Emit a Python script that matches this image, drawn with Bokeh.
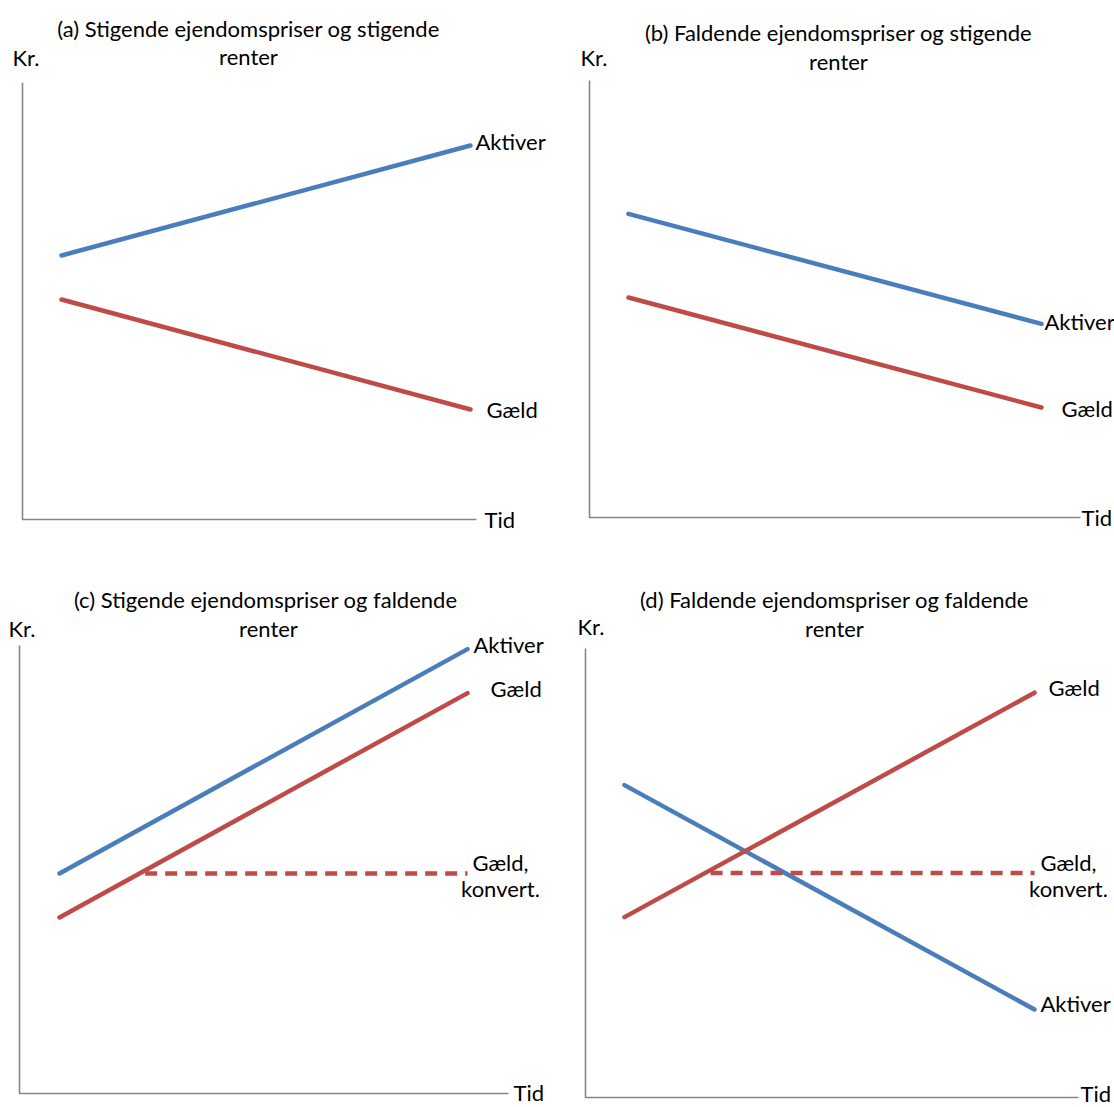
from bokeh.plotting import figure
from bokeh.layouts import gridplot
from bokeh.models import Range1d
from bokeh.embed import file_html
from bokeh.resources import INLINE
from bokeh.core.properties import value

# ---------------- data (schematic values, "Kr." vs "Tid") ----------------
time_points = [1, 11]

a_aktiver = [60, 85]
a_gaeld = [50, 25]

b_aktiver = [69, 44]
b_gaeld = [50, 25]

c_aktiver = [50, 101]
c_gaeld = [40, 91]
c_konv_time = [3.1, 11]
c_gaeld_konv = [50, 50]

d_aktiver = [71, 20]
d_gaeld = [41, 92]
d_konv_time = [3.1, 11]
d_gaeld_konv = [51, 51]

titles = [
    ["(a) Stigende ejendomspriser og stigende", "renter"],
    ["(b) Faldende ejendomspriser og stigende", "renter"],
    ["(c)  Stigende ejendomspriser og faldende", "renter"],
    ["(d) Faldende ejendomspriser og faldende", "renter"],
]
y_label = "Kr."
x_label = "Tid"
lbl_aktiver = "Aktiver"
lbl_gaeld = "Gæld"
lbl_konv = ["Gæld,", "konvert."]

# ---------------- style ----------------
BLUE = "#4A7EBB"
RED = "#BE4B48"
AXIS = "#868686"
FONT = "Lato"
FS = "22px"
PX_PER_KR = 4.4
LW = 4.5


def make_panel(L):
    W, H, ox, oy = L["W"], L["H"], L["ox"], L["oy"]
    s_px, e_px = L["start"], L["end"]
    ppt = (e_px - s_px) / (time_points[1] - time_points[0])

    def t_at(px):  # reference picture x -> time units
        return time_points[0] + (px - s_px) / ppt

    def v_at(py):  # reference picture y -> kr units
        return (L["axis_y"] - py) / PX_PER_KR

    p = figure(width=W, height=H, output_backend="svg", toolbar_location=None,
               x_axis_type=None, y_axis_type=None, min_border=0,
               x_range=Range1d(t_at(ox), t_at(ox + W)),
               y_range=Range1d(v_at(oy + H), v_at(oy)))
    p.outline_line_color = None
    p.background_fill_color = "white"
    p.border_fill_color = "white"

    # axes (L-shape)
    ax_t = t_at(L["axis_x"])
    p.line([ax_t, ax_t, t_at(L["x_end"])], [v_at(L["top"]), 0, 0],
           line_color=AXIS, line_width=1.6)

    tf = dict(text_font=value(FONT), text_font_size=FS, text_color="black",
              text_baseline="middle")
    cx_t = t_at(L["title_x"])
    p.text([cx_t], [v_at(L["title_y"][0])], text=[L["title"][0]], text_align="center", **tf)
    p.text([cx_t], [v_at(L["title_y"][1])], text=[L["title"][1]], text_align="center", **tf)
    p.text([t_at(L["kr"][0])], [v_at(L["kr"][1])], text=[y_label], text_align="left", **tf)
    p.text([t_at(L["tid"][0])], [v_at(L["tid"][1])], text=[x_label], text_align="left", **tf)
    return p, tf


layouts = {
    "a": dict(W=557, H=554, ox=0, oy=0, axis_x=22, axis_y=519, top=82, x_end=476,
              start=61, end=470, title=titles[0], title_x=248, title_y=(28, 56),
              kr=(12, 57), tid=(484, 519)),
    "b": dict(W=557, H=554, ox=557, oy=0, axis_x=589, axis_y=517, top=80, x_end=1080,
              start=628, end=1041, title=titles[1], title_x=838, title_y=(32, 61),
              kr=(580, 57), tid=(1081, 517)),
    "c": dict(W=557, H=553, ox=0, oy=554, axis_x=19, axis_y=1093, top=645, x_end=508,
              start=59, end=467, title=titles[2], title_x=268, title_y=(599, 628),
              kr=(8, 628), tid=(513, 1092)),
    "d": dict(W=557, H=553, ox=557, oy=554, axis_x=585, axis_y=1097, top=648, x_end=1078,
              start=624, end=1034, title=titles[3], title_x=834, title_y=(599, 628),
              kr=(577, 626), tid=(1080, 1093)),
}

# panel a
pa, tf = make_panel(layouts["a"])
pa.line(time_points, a_aktiver, line_color=BLUE, line_width=LW, line_cap="round")
pa.line(time_points, a_gaeld, line_color=RED, line_width=LW, line_cap="round")
pa.text([time_points[1]], [a_aktiver[1]], text=[lbl_aktiver], text_align="left",
        x_offset=5, y_offset=-4, **tf)
pa.text([time_points[1]], [a_gaeld[1]], text=[lbl_gaeld], text_align="left",
        x_offset=16, y_offset=0, **tf)

# panel b
pb, tf = make_panel(layouts["b"])
pb.line(time_points, b_aktiver, line_color=BLUE, line_width=LW, line_cap="round")
pb.line(time_points, b_gaeld, line_color=RED, line_width=LW, line_cap="round")
pb.text([time_points[1]], [b_aktiver[1]], text=[lbl_aktiver], text_align="left",
        x_offset=3, y_offset=-2, **tf)
pb.text([time_points[1]], [b_gaeld[1]], text=[lbl_gaeld], text_align="left",
        x_offset=20, y_offset=1, **tf)

# panel c
pc, tf = make_panel(layouts["c"])
pc.line(time_points, c_aktiver, line_color=BLUE, line_width=LW, line_cap="round")
pc.line(time_points, c_gaeld, line_color=RED, line_width=LW, line_cap="round")
pc.line(c_konv_time, c_gaeld_konv, line_color=RED, line_width=LW, line_dash="12 8")
pc.text([time_points[1]], [c_aktiver[1]], text=[lbl_aktiver], text_align="left",
        x_offset=6, y_offset=-5, **tf)
pc.text([time_points[1]], [c_gaeld[1]], text=[lbl_gaeld], text_align="left",
        x_offset=23, y_offset=-5, **tf)
pc.text([c_konv_time[1]], [c_gaeld_konv[1]], text=[lbl_konv[0]], text_align="center",
        x_offset=33, y_offset=-11, **tf)
pc.text([c_konv_time[1]], [c_gaeld_konv[1]], text=[lbl_konv[1]], text_align="center",
        x_offset=33, y_offset=15, **tf)

# panel d
pd_, tf = make_panel(layouts["d"])
pd_.line(time_points, d_aktiver, line_color=BLUE, line_width=LW, line_cap="round")
pd_.line(time_points, d_gaeld, line_color=RED, line_width=LW, line_cap="round")
pd_.line(d_konv_time, d_gaeld_konv, line_color=RED, line_width=LW, line_dash="12 8")
pd_.text([time_points[1]], [d_gaeld[1]], text=[lbl_gaeld], text_align="left",
         x_offset=14, y_offset=-5, **tf)
pd_.text([d_konv_time[1]], [d_gaeld_konv[1]], text=[lbl_konv[0]], text_align="center",
         x_offset=34, y_offset=-11, **tf)
pd_.text([d_konv_time[1]], [d_gaeld_konv[1]], text=[lbl_konv[1]], text_align="center",
         x_offset=34, y_offset=15, **tf)
pd_.text([time_points[1]], [d_aktiver[1]], text=[lbl_aktiver], text_align="left",
         x_offset=6, y_offset=-6, **tf)

grid = gridplot([[pa, pb], [pc, pd_]], toolbar_location=None)

open("out.html", "w").write(file_html(grid, INLINE))
